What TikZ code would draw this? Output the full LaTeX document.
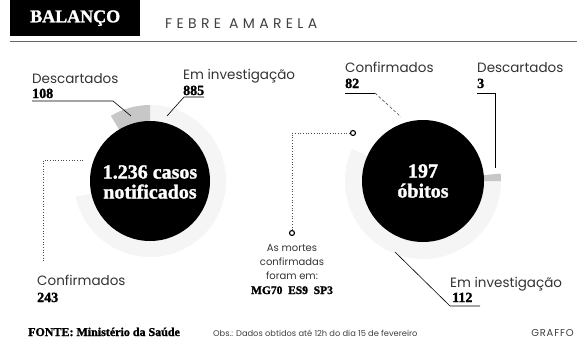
\documentclass[tikz,border=0pt]{standalone}
\usepackage{fontspec}
\setmainfont{Poppins}
\newfontfamily\slab{Liberation Serif}[UprightFont={* Bold}, BoldFont={* Bold}, FakeBold=1.5]
\newfontfamily\headfont{Poppins}[LetterSpace=31]
\newfontfamily\graffont{Poppins}[LetterSpace=8]
\tikzset{
  x=1pt, y=-1pt,
  lbl/.style={anchor=base west, inner sep=0pt, text=black!80, font=\fontsize{13.5}{15}\selectfont},
  num/.style={anchor=base west, inner sep=0pt, font=\slab\fontsize{14}{16}\selectfont},
  midtxt/.style={anchor=base, inner sep=0pt, text=black!80, font=\fontsize{10}{12}\selectfont},
  bigtxt/.style={align=center, inner sep=0pt, text=white, font=\slab\fontsize{20}{20}\selectfont},
  disc/.style={circle, fill=black, inner sep=0pt, minimum size=#1},
  leader/.style={draw=black, line width=0.6pt},
  dotlead/.style={draw=black!70, dotted, line width=0.7pt},
  invest/.style={fill=black!4},
  descart/.style={fill=black!22},
  endmark/.style={circle, draw=black, line width=1.1pt, fill=white, inner sep=0pt, minimum size=5pt},
  foot/.style={anchor=base west, inner sep=0pt, text=black!75, font=\fontsize{8.3}{10}\selectfont}
}
\begin{document}
\begin{tikzpicture}
\useasboundingbox (0,0) rectangle (577,348);
% header
\node[fill=black, anchor=north west, minimum width=130pt, minimum height=36pt, inner sep=0pt] (hdr) at (10,0) {};
\node[text=white, inner sep=0pt, font=\slab\fontsize{18}{20}\selectfont] (bal) at (hdr.center) {BALANÇO};
\node[anchor=base west, inner sep=0pt, text=black!75, font=\headfont\fontsize{14}{16}\selectfont] (feb) at (165,28) {FEBRE AMARELA};
\coordinate (hl1) at (10,41);
\coordinate (hl2) at (577,41);
\draw[black!60, line width=0.8pt] (hl1) -- (hl2);

% left pie ring
\coordinate (cL) at (150,181);
\fill[invest] (cL) -- ++(-192:76) arc[start angle=-192, end angle=-450, radius=76] -- cycle;
\fill[descart] (cL) -- ++(-90:76) arc[start angle=-90, end angle=-121, radius=76] -- cycle;
\node[disc=120pt] (circL) at (cL) {};
\node[bigtxt] (txtL) at (150,182) {1.236 casos\\notificados};

% right pie ring
\coordinate (cR) at (423,181);
\fill[invest] (cR) -- ++(-155.5:78) arc[start angle=-155.5, end angle=-360, radius=78] -- cycle;
\fill[descart] (cR) -- ++(0:78) arc[start angle=0, end angle=-5.5, radius=78] -- cycle;
\node[disc=122pt] (circR) at (cR) {};
\node[bigtxt] (txtR) at (423,181) {197\\óbitos};

% left labels
\node[lbl] (ldes) at (32,83) {Descartados};
\node[num] (ndes) at (32,98) {108};
\coordinate (a1) at (32,101);
\coordinate (a2) at (113,101);
\coordinate (a3) at (131,116);
\draw[leader] (a1) -- (a2) -- (a3);

\node[lbl] (linv) at (183,79) {Em investigação};
\node[num] (ninv) at (183,95) {885};
\coordinate (b1) at (204,97);
\coordinate (b2) at (184,97);
\coordinate (b3) at (167,116);
\draw[leader] (b1) -- (b2) -- (b3);

\node[lbl] (lcon) at (37,285) {Confirmados};
\node[num] (ncon) at (37,302) {243};
\coordinate (c1) at (83,160);
\coordinate (c2) at (43,160);
\coordinate (c3) at (43,262);
\draw[dotlead] (c1) -- (c2) -- (c3);

% right labels
\node[lbl] (rcon) at (345,72) {Confirmados};
\node[num] (nrcon) at (345,88) {82};
\coordinate (d1) at (345,93);
\coordinate (d2) at (375,93);
\coordinate (d3) at (401,117);
\draw[leader] (d1) -- (d2);
\draw[leader, densely dashed, draw=black!70] (d2) -- (d3);

\node[lbl] (rdes) at (477,72) {Descartados};
\node[num] (nrdes) at (477,88) {3};
\coordinate (e1) at (477,93);
\coordinate (e2) at (495,93);
\coordinate (e3) at (495,168);
\draw[leader] (e1) -- (e2) -- (e3);

\node[lbl] (rinv) at (450,287) {Em investigação};
\node[num] (nrinv) at (452,302) {112};
\coordinate (f1) at (480,306);
\coordinate (f2) at (450,306);
\coordinate (f3) at (395,252);
\draw[leader] (f1) -- (f2) -- (f3);

% middle note
\node[endmark] (m1) at (292,233) {};
\node[endmark] (m2) at (353,133) {};
\coordinate (mk) at (292,133);
\draw[dotlead] (m1) -- (mk) -- (m2);
\node[midtxt] (t1) at (292,251) {As mortes};
\node[midtxt] (t2) at (292,265) {confirmadas};
\node[midtxt] (t3) at (292,279) {foram em:};
\node[anchor=base, inner sep=0pt, font=\slab\fontsize{11.5}{13}\selectfont] (t4) at (292,294) {MG70\enspace ES9\enspace SP3};

% footer
\node[anchor=base west, inner sep=0pt, font=\slab\fontsize{12}{13}\selectfont] (fonte) at (28,336) {FONTE: Ministério da Saúde};
\node[foot] (obs) at (213,336) {Obs.: Dados obtidos até 12h do dia 15 de fevereiro};
\node[anchor=base east, inner sep=0pt, text=black!75, font=\graffont\fontsize{10}{12}\selectfont] (graf) at (574,336) {GRAFFO};
\end{tikzpicture}
\end{document}
